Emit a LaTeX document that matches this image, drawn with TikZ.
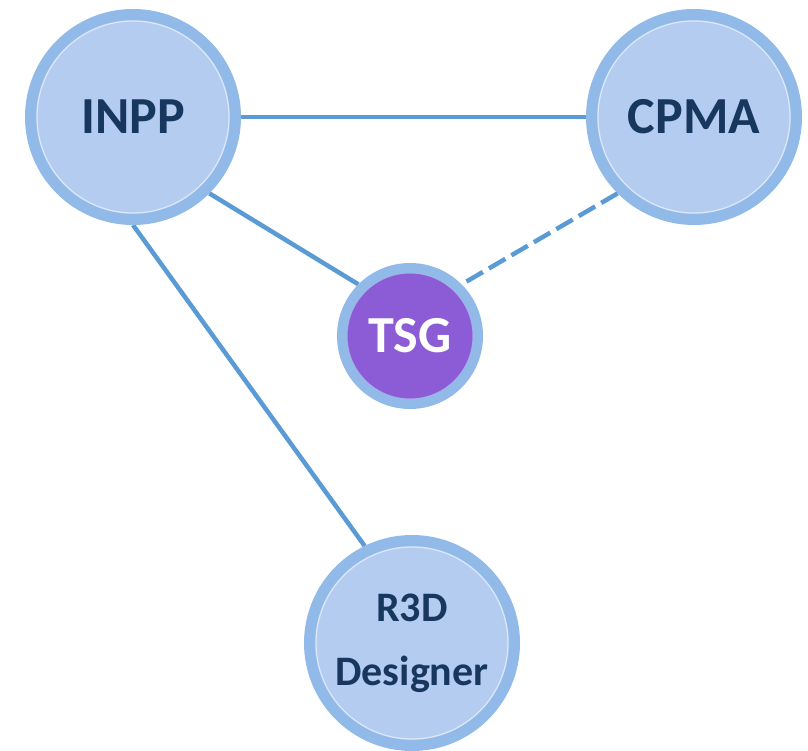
\documentclass[tikz,border=0pt]{standalone}
\usepackage{fontspec}
\setmainfont{Carlito}
\usetikzlibrary{shadows}
\pgfdeclarelayer{bg}
\pgfsetlayers{bg,main}
\definecolor{ringblue}{RGB}{146,186,232}
\definecolor{discblue}{RGB}{179,204,240}
\definecolor{linkblue}{RGB}{91,155,213}
\definecolor{tsgpurple}{RGB}{139,92,214}
\definecolor{navytext}{RGB}{23,55,94}
\begin{document}
\begin{tikzpicture}[x=1pt,y=-1pt,
    bubble/.style={circle,inner sep=0pt,draw=ringblue,line width=11pt,fill=discblue,
        minimum size=205pt,text=navytext,font=\bfseries\fontsize{52}{60}\selectfont,align=center,
        circular drop shadow={shadow scale=1.03,fill=gray,opacity=.35},
        path picture={\draw[white,opacity=.55,line width=1.2pt] (path picture bounding box.center) circle (96pt);}},
    smallbubble/.style={bubble,fill=tsgpurple,text=white,line width=10pt,minimum size=136pt,
        font=\bfseries\fontsize{52}{60}\selectfont,
        path picture={\draw[white,opacity=.4,line width=1pt] (path picture bounding box.center) circle (63pt);}},
    link/.style={linkblue,line width=4.5pt}]
    \useasboundingbox (0,0) rectangle (808,751);
    \node[bubble] (inpp) at (133,117) {INPP};
    \node[bubble] (cpma) at (694,117) {CPMA};
    \node[smallbubble] (tsg) at (410,336) {TSG};
    \node[bubble,font=\bfseries\fontsize{42}{64}\selectfont] (r3d) at (412,643) {R3D\\Designer};
    \begin{pgfonlayer}{bg}
        \draw[link] (inpp.east)--(cpma.west);
        \draw[link] (inpp.-45)--(tsg.135);
        \draw[link,dash pattern=on 19pt off 7pt] (cpma.-135)--(tsg.45);
        \draw[link] (inpp.south)--(r3d.116);
    \end{pgfonlayer}
\end{tikzpicture}
\end{document}
